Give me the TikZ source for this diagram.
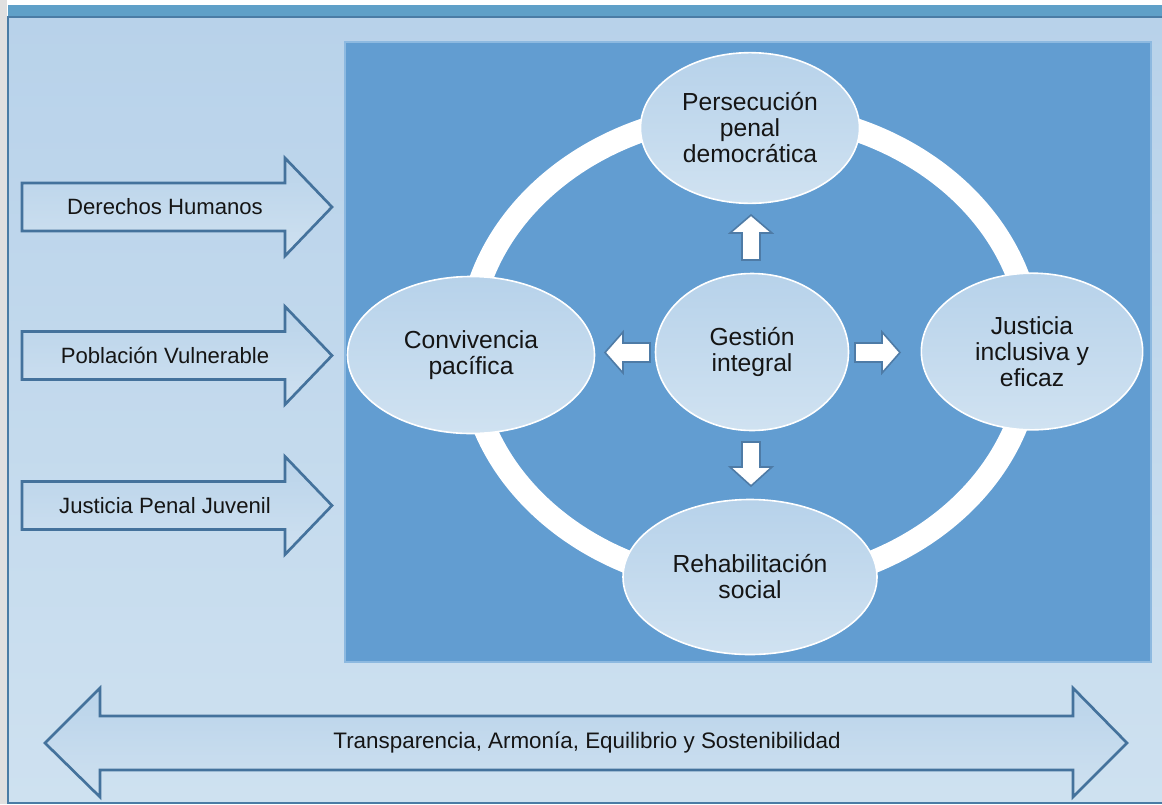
\documentclass[tikz,border=0pt]{standalone}
\usepackage{fontspec}
\setmainfont{Liberation Sans}
\usetikzlibrary{shapes.geometric}
\definecolor{panelTop}{HTML}{B8D2EA}
\definecolor{panelBot}{HTML}{CEE1F0}
\definecolor{barblue}{HTML}{5FA0C8}
\definecolor{darkline}{HTML}{4A7CA5}
\definecolor{innerblue}{HTML}{629DD1}
\definecolor{inneredge}{HTML}{8DB9E0}
\definecolor{ellTop}{HTML}{B7D2EA}
\definecolor{ellBot}{HTML}{D0E2F1}
\definecolor{arrowline}{HTML}{44729C}
\definecolor{arrTop}{HTML}{B9D3EA}
\definecolor{arrBot}{HTML}{CFE1F0}
\definecolor{smallline}{HTML}{4E7BA6}
\definecolor{txt}{HTML}{151515}
\tikzset{
  ellnode/.style={ellipse, draw=white, line width=1.2pt, top color=ellTop, bottom color=ellBot,
    inner sep=0pt, align=center, text=txt, font=\fontsize{18.5}{19.5}\selectfont},
  bigarrow/.style={draw=arrowline, line width=2pt, line join=miter, top color=arrTop, bottom color=arrBot},
  smallarrow/.style={draw=smallline, line width=1.2pt, fill=white, line join=miter},
  arrowtext/.style={text=txt, font=\fontsize{16.6}{20}\selectfont, inner sep=0pt},
}
\begin{document}
\begin{tikzpicture}[x=0.75pt,y=-0.75pt]
\useasboundingbox (0,0) rectangle (1162,804);
\fill[white] (0,0) rectangle (1162,804);
\fill[black!12] (0,0) rectangle (7,804);
\fill[barblue] (8,5) rectangle (1162,17);
\shade[top color=panelTop,bottom color=panelBot] (8,17) rectangle (1162,803);
\draw[darkline,line width=1.4pt] (1162,17) -- (8,17) -- (8,803) -- (1162,803);
% inner panel
\fill[innerblue] (345,42) rectangle (1151,662);
\draw[inneredge,line width=0.8pt] (345,42) rectangle (1151,662);
% ring
\draw[white,line width=17.25pt] (750,349) ellipse [x radius=281.5, y radius=236.5];
% ellipses
\node[ellnode, minimum width=164.25pt, minimum height=113pt] (pers) at (750,128) {Persecución\\penal\\democrática};
\node[ellnode, minimum width=185.25pt, minimum height=117.75pt] (conv) at (471,355) {Convivencia\\pacífica};
\node[ellnode, minimum width=144.75pt, minimum height=117.75pt] (gest) at (752,352) {Gestión\\integral};
\node[ellnode, minimum width=166pt, minimum height=117.5pt] (just) at (1032,351.5) {Justicia\\inclusiva y\\eficaz};
\node[ellnode, minimum width=190.5pt, minimum height=116.25pt] (rehab) at (750,577) {Rehabilitación\\social};
% small arrows
\draw[smallarrow] (742,260) -- (742,233) -- (730,233) -- (751,215) -- (772,233) -- (760,233) -- (760,260) -- cycle;
\draw[smallarrow] (742,442) -- (760,442) -- (760,467) -- (772,467) -- (751,486) -- (730,467) -- (742,467) -- cycle;
\draw[smallarrow] (650,343) -- (623,343) -- (623,332) -- (605,352.5) -- (623,373) -- (623,362) -- (650,362) -- cycle;
\draw[smallarrow] (855,343) -- (882,343) -- (882,332) -- (900,352.5) -- (882,373) -- (882,362) -- (855,362) -- cycle;
% left arrows
\foreach \cy/\nm/\lab in {207/dh/Derechos Humanos, 355.5/pv/Población Vulnerable, 505.5/jp/Justicia Penal Juvenil}{
  \draw[bigarrow] (22,\cy-24) -- (285,\cy-24) -- (285,\cy-49) -- (332,\cy) -- (285,\cy+49) -- (285,\cy+24) -- (22,\cy+24) -- cycle;
  \node[arrowtext] (\nm) at (165,\cy) {\lab};
}
% bottom double arrow
\draw[bigarrow] (100,716) -- (1073,716) -- (1073,688) -- (1127,743) -- (1073,797) -- (1073,770) -- (100,770) -- (100,797) -- (45,743) -- (100,688) -- cycle;
\node[arrowtext, font=\fontsize{16.8}{20}\selectfont] (tras) at (587,743) {Transparencia, Armonía, Equilibrio y Sostenibilidad};
\end{tikzpicture}
\end{document}
